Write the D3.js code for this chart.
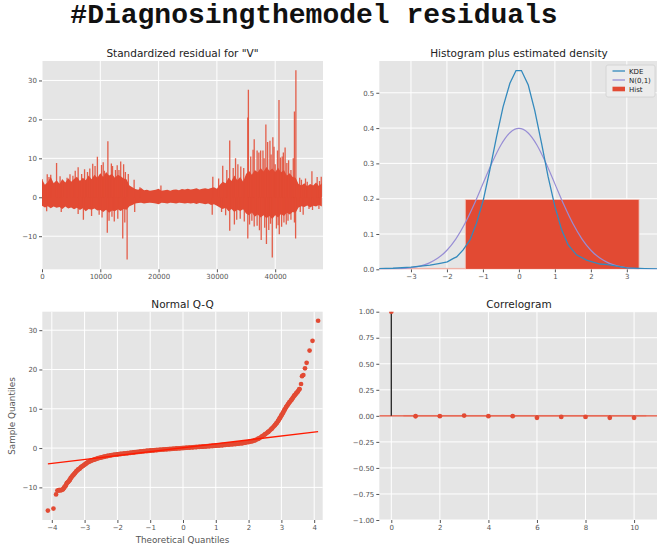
<!DOCTYPE html>
<html>
<head>
<meta charset="utf-8">
<script src="https://cdn.jsdelivr.net/npm/d3@7"></script>
<style>
body { margin: 0; background: #fff; }
text { font-family: "DejaVu Sans", sans-serif; }
</style>
</head>
<body>
<div id="chart"></div>
<script>
// standardized residual: envelope of the dense band (every 500 obs) + the spikes sticking out of it
var residX = d3.range(0, 48001, 500);
var residHigh = [4.6,3.2,3.9,5.2,3.6,4.4,3.5,4.6,3.8,4.9,
                 4.0,4.7,5.3,4.2,5.0,4.4,5.6,4.6,5.8,5.0,
                 6.2,5.2,6.5,5.6,6.0,5.0,5.8,5.4,4.8,4.6,
                 3.0,2.6,2.1,1.9,2.4,1.8,1.9,1.7,1.8,1.9,
                 2.2,1.7,1.8,1.9,1.7,1.9,2.0,1.8,2.1,2.0,
                 2.2,2.0,2.1,2.3,2.0,2.2,2.3,2.1,2.4,2.6,
                 2.2,3.2,4.0,3.6,5.0,4.2,5.6,4.4,5.2,4.0,
                 6.0,6.8,5.8,7.0,6.4,7.5,6.6,7.8,6.8,7.4,
                 6.5,7.6,6.4,7.0,5.6,6.2,5.2,5.0,3.4,3.0,
                 3.6,2.8,3.4,3.0,3.8,2.9,3.6];
var residLow = [-2.2,-2.6,-2.3,-2.8,-2.4,-2.7,-2.5,-3.0,-2.4,-2.9,
                -2.6,-3.1,-2.7,-3.3,-2.8,-3.6,-3.0,-3.2,-2.9,-3.4,
                -3.3,-3.8,-3.2,-4.0,-3.4,-3.6,-3.1,-3.5,-3.0,-3.2,
                -2.3,-2.0,-1.6,-1.5,-1.4,-1.6,-1.5,-1.4,-1.5,-1.6,
                -1.8,-1.4,-1.5,-1.6,-1.4,-1.5,-1.6,-1.4,-1.5,-1.6,
                -1.5,-1.6,-1.5,-1.7,-1.5,-1.6,-1.8,-1.6,-2.0,-1.8,
                -2.2,-2.6,-3.0,-2.7,-3.6,-3.0,-3.8,-3.2,-3.5,-3.1,
                -4.2,-4.6,-3.9,-5.0,-4.4,-5.2,-4.6,-5.4,-4.8,-5.6,
                -4.6,-5.2,-4.3,-4.8,-4.0,-4.4,-3.8,-4.0,-2.6,-2.3,
                -2.5,-2.1,-2.6,-2.2,-2.4,-2.0,-2.4];
var spikeX = [0,900,1200,1500,2500,3100,3500,4300,4800,5300,5700,6200,6800,7300,7800,8200,8700,9100,9500,10200,10500,10700,11300,11900,12100,12600,12900,13200,13500,14000,14300,14800,15800,16800,20400,
              29300,30300,31000,31700,32200,32800,33200,33600,34100,34600,35300,35400,35800,36200,36400,36900,37200,37500,37900,38100,38400,38700,39100,39300,39600,39800,40000,40400,40650,40900,41200,41400,41700,42000,42300,42700,43100,43300,43550,44200,44500,45200,45500,46300,47200,47600,47900,
              800,3300,6200,7100,8500,9800,10300,11200,11500,12000,12400,13000,13850,14200,14600,15900,
              29200,30800,31500,32200,33000,33400,34000,34700,35300,35600,36000,36400,36900,37300,37600,38200,38500,38900,39200,39500,40200,40500,40700,41100,41500,41900,42200,42700,43300,43500,44300,44800,45800,46400,47500];
var spikeY = [4.7,5.9,5.2,5.8,8.8,5.4,4.5,5.0,5.9,5.5,6.8,7.7,6.0,7.2,6.5,7.4,8.6,8.0,10.4,8.3,9.0,6.8,14.4,8.7,8.0,7.0,8.2,7.0,9.2,8.5,6.5,6.0,4.5,2.6,3.0,
              5.3,4.8,8.1,7.0,14.6,7.5,10.0,8.5,7.9,7.5,20.5,27.6,10.5,12.2,14.9,12.0,11.5,12.0,12.0,10.0,18.7,14.2,14.5,11.0,15.4,13.0,8.5,12.0,25.0,10.2,10.5,11.5,12.8,8.8,9.5,7.0,10.0,22.0,32.6,5.0,4.5,4.8,4.0,6.7,5.2,4.2,5.3,
              -3.6,-3.8,-4.3,-5.8,-4.8,-4.5,-5.2,-9.1,-6.0,-5.0,-6.2,-5.5,-10.6,-6.5,-16.0,-3.8,
              -4.5,-3.8,-4.6,-8.6,-7.0,-5.8,-5.5,-6.2,-10.6,-7.0,-6.0,-7.5,-7.3,-8.5,-11.0,-7.8,-12.0,-8.4,-6.8,-15.5,-8.0,-7.2,-9.5,-7.6,-6.5,-7.0,-6.0,-5.8,-6.5,-10.6,-3.8,-4.5,-3.0,-3.3,-3.0];

// histogram + densities
var histEdges = [-6.32, -1.49, 3.34];
var histHeights = [0.003, 0.198];
var kdeX = [-3.9,-3.5,-3.0,-2.47,-2.19,-1.99,-1.82,-1.73,-1.55,-1.36,-1.18,-0.99,-0.81,-0.62,-0.44,-0.25,-0.08,0.07,0.26,0.44,0.63,0.81,1.0,1.19,1.37,1.6,1.88,2.25,2.47,3.0,3.5,3.95];
var kdeY = [0.002,0.003,0.006,0.012,0.017,0.021,0.031,0.035,0.055,0.083,0.13,0.196,0.28,0.376,0.46,0.527,0.563,0.563,0.522,0.45,0.357,0.263,0.178,0.111,0.069,0.041,0.026,0.015,0.013,0.004,0.002,0.001];
var normX = [-4,-3.75,-3.5,-3.25,-3,-2.75,-2.5,-2.25,-2,-1.75,-1.5,-1.25,-1,-0.75,-0.5,-0.25,0,0.25,0.5,0.75,1,1.25,1.5,1.75,2,2.25,2.5,2.75,3,3.25,3.5,3.75,4];
var normY = [0.0001,0.0004,0.0009,0.002,0.0044,0.0091,0.0175,0.0317,0.054,0.0863,0.1295,0.1826,0.242,0.3011,0.3521,0.3867,0.3989,0.3867,0.3521,0.3011,0.242,0.1826,0.1295,0.0863,0.054,0.0317,0.0175,0.0091,0.0044,0.002,0.0009,0.0004,0.0001];

// normal Q-Q
var qqTheo = [-3.78,-3.72,-3.66,-3.62,-3.58,-3.54,-3.5,-3.46,-3.42,-3.38,-3.34,-3.3,-3.25,-3.2,-3.15,-3.1,-3.05,-3.0,-2.95,-2.9,-2.85,-2.8,-2.7,-2.6,-2.5,-2.4,-2.3,-2.2,-2.1,-2.0,-1.9,-1.8,-1.7,-1.6,-1.5,-1.4,-1.3,-1.2,-1.1,-1.0,-0.9,-0.8,-0.7,-0.6,-0.5,-0.4,-0.3,-0.2,-0.1,0,0.1,0.2,0.3,0.4,0.5,0.6,0.7,0.8,0.9,1.0,1.1,1.2,1.3,1.4,1.5,1.6,1.7,1.8,1.9,2.0,2.1,2.2,2.3,2.4,2.5,2.6,2.7,2.8,2.85,2.9,2.95,3.0,3.05,3.1,3.15,3.2,3.25,3.3,3.35,3.4,3.45,3.5,3.55];
var qqSample = [-10.7,-10.7,-10.5,-10.0,-9.6,-8.9,-8.6,-8.2,-7.6,-7.2,-6.8,-6.4,-5.9,-5.5,-5.2,-4.8,-4.5,-4.2,-3.9,-3.6,-3.4,-3.2,-2.9,-2.6,-2.4,-2.2,-2.0,-1.85,-1.7,-1.6,-1.5,-1.4,-1.3,-1.2,-1.1,-1.0,-0.9,-0.8,-0.72,-0.65,-0.58,-0.5,-0.43,-0.36,-0.3,-0.23,-0.17,-0.1,-0.04,0.02,0.08,0.14,0.2,0.26,0.32,0.38,0.44,0.5,0.56,0.62,0.69,0.76,0.83,0.9,0.98,1.06,1.15,1.26,1.4,1.55,1.75,2.0,2.4,2.9,3.5,4.1,4.9,5.8,6.3,6.9,7.6,8.3,9.0,9.8,10.5,11.1,11.7,12.2,12.8,13.4,13.9,14.4,15.0];
var qqOutTheo = [-4.12,-3.95,-3.87,-3.83,-3.8,3.6,3.63,3.67,3.72,3.77,3.86,3.95,4.12];
var qqOutSample = [-15.9,-15.4,-11.8,-10.8,-10.8,16.3,18.3,18.6,20.3,21.7,24.8,27.3,32.4];
var qqLineTheo = [-4.12, 4.12];
var qqLineSample = [-4.03, 4.18];

// correlogram
var acfLags = [0,1,2,3,4,5,6,7,8,9,10];
var acfValues = [1,-0.004,-0.003,0.003,-0.003,-0.003,-0.019,-0.01,-0.01,-0.019,-0.019];
var acfConf = 0.009;

var red = "#E24A33", blue = "#348ABD", purple = "#988ED5";
var W = 657, H = 546;

var svg = d3.select("#chart").append("svg")
    .attr("width", W).attr("height", H);

svg.append("text")
    .attr("x", 314).attr("y", 23)
    .attr("text-anchor", "middle")
    .style("font-family", "'Liberation Mono', 'DejaVu Sans Mono', monospace")
    .style("font-weight", "bold")
    .style("font-size", "28px")
    .attr("fill", "#111")
    .text("#Diagnosingthemodel residuals");

var clipId = 0;
function panel(left, top, w, h, xd, yd, xt, yt, xf, yf, title, titleX) {
    var x = d3.scaleLinear().domain(xd).range([left, left + w]);
    var y = d3.scaleLinear().domain(yd).range([top + h, top]);
    var g = svg.append("g");
    g.append("rect").attr("x", left).attr("y", top).attr("width", w).attr("height", h).attr("fill", "#E5E5E5");
    g.selectAll(".gx").data(xt).enter().append("line")
        .attr("x1", d => x(d)).attr("x2", d => x(d)).attr("y1", top).attr("y2", top + h)
        .attr("stroke", "#fff").attr("stroke-width", 1);
    g.selectAll(".gy").data(yt).enter().append("line")
        .attr("y1", d => y(d)).attr("y2", d => y(d)).attr("x1", left).attr("x2", left + w)
        .attr("stroke", "#fff").attr("stroke-width", 1);
    var ax = g.append("g").attr("transform", "translate(0," + (top + h) + ")")
        .call(d3.axisBottom(x).tickValues(xt).tickFormat(xf).tickSize(3).tickPadding(2));
    var ay = g.append("g").attr("transform", "translate(" + left + ",0)")
        .call(d3.axisLeft(y).tickValues(yt).tickFormat(yf).tickSize(3).tickPadding(2));
    [ax, ay].forEach(function (a) {
        a.select(".domain").remove();
        a.selectAll("line").attr("stroke", "#555");
        a.selectAll("text").attr("fill", "#555").style("font-size", "7px").style("font-family", "DejaVu Sans");
    });
    g.append("text").attr("x", titleX).attr("y", top - 4)
        .attr("text-anchor", "middle").attr("fill", "#222").style("font-size", "10.5px").text(title);
    var id = "clip" + (clipId++);
    svg.append("clipPath").attr("id", id).append("rect")
        .attr("x", left).attr("y", top).attr("width", w).attr("height", h);
    var plot = svg.append("g").attr("clip-path", "url(#" + id + ")");
    return { x: x, y: y, g: plot };
}

var f0 = d3.format("d");

// --- standardized residual
var p1 = panel(42, 61, 281, 208.3, [0, 48200], [-18.5, 35], [0, 10000, 20000, 30000, 40000], [-10, 0, 10, 20, 30], f0, f0, 'Standardized residual for "V"', 182.5);
p1.g.append("path")
    .datum(residX.map((d, i) => [d, residHigh[i], residLow[i]]))
    .attr("fill", red)
    .attr("d", d3.area().x(d => p1.x(d[0])).y0(d => p1.y(d[2])).y1(d => p1.y(d[1])));
p1.g.selectAll(".spike").data(spikeX.map((d, i) => [d, spikeY[i]])).enter().append("line")
    .attr("x1", d => p1.x(d[0])).attr("x2", d => p1.x(d[0]))
    .attr("y1", p1.y(0)).attr("y2", d => p1.y(d[1]))
    .attr("stroke", red).attr("stroke-width", 1.3).attr("stroke-opacity", 0.88);

// --- histogram plus estimated density
var p2 = panel(379.3, 61, 281, 208.3, [-3.88, 3.93], [0, 0.59], [-3, -2, -1, 0, 1, 2, 3], [0, 0.1, 0.2, 0.3, 0.4, 0.5], d3.format("d"), d3.format(".1f"), "Histogram plus estimated density", 519);
p2.g.selectAll(".bar").data(histHeights).enter().append("rect")
    .attr("x", (d, i) => p2.x(histEdges[i]))
    .attr("width", (d, i) => p2.x(histEdges[i + 1]) - p2.x(histEdges[i]))
    .attr("y", d => p2.y(d))
    .attr("height", d => p2.y(0) - p2.y(d))
    .attr("fill", red).attr("stroke", "#f3c8bf").attr("stroke-width", 0.8);
p2.g.append("path").datum(normX.map((d, i) => [d, normY[i]]))
    .attr("fill", "none").attr("stroke", purple).attr("stroke-width", 1.2)
    .attr("d", d3.line().curve(d3.curveMonotoneX).x(d => p2.x(d[0])).y(d => p2.y(d[1])));
p2.g.append("path").datum(kdeX.map((d, i) => [d, kdeY[i]]))
    .attr("fill", "none").attr("stroke", blue).attr("stroke-width", 1.3)
    .attr("d", d3.line().x(d => p2.x(d[0])).y(d => p2.y(d[1])));

var lg = svg.append("g");
lg.append("rect").attr("x", 606).attr("y", 65).attr("width", 49).attr("height", 32).attr("rx", 2)
    .attr("fill", "#ececec").attr("stroke", "#d0d0d0").attr("stroke-width", 0.8);
var legendItems = [["KDE", blue], ["N(0,1)", purple], ["Hist", red]];
legendItems.forEach(function (d, i) {
    var yy = 71 + i * 9;
    if (i < 2) {
        lg.append("line").attr("x1", 612.5).attr("x2", 625).attr("y1", yy).attr("y2", yy)
            .attr("stroke", d[1]).attr("stroke-width", 1.3);
    } else {
        lg.append("rect").attr("x", 612.5).attr("y", yy - 2.3).attr("width", 12.5).attr("height", 4.6).attr("fill", d[1]);
    }
    lg.append("text").attr("x", 629).attr("y", yy + 2.5).attr("fill", "#222").style("font-size", "7px").text(d[0]);
});

// --- normal Q-Q
var p3 = panel(42.3, 311.7, 280.4, 208.3, [-4.29, 4.26], [-18.3, 34.7], [-4, -3, -2, -1, 0, 1, 2, 3, 4], [-10, 0, 10, 20, 30], f0, f0, "Normal Q-Q", 182.5);
var qqPts = qqTheo.map((d, i) => [d, qqSample[i]]);
p3.g.append("path").datum(qqPts)
    .attr("fill", "none").attr("stroke", red).attr("stroke-width", 4.6)
    .attr("stroke-linecap", "round").attr("stroke-linejoin", "round")
    .attr("d", d3.line().x(d => p3.x(d[0])).y(d => p3.y(d[1])));
p3.g.selectAll(".qq").data(qqPts.concat(qqOutTheo.map((d, i) => [d, qqOutSample[i]]))).enter().append("circle")
    .attr("cx", d => p3.x(d[0])).attr("cy", d => p3.y(d[1])).attr("r", 2.35).attr("fill", red);
p3.g.append("path").datum(qqLineTheo.map((d, i) => [d, qqLineSample[i]]))
    .attr("fill", "none").attr("stroke", "#ff1a00").attr("stroke-width", 1.4)
    .attr("d", d3.line().x(d => p3.x(d[0])).y(d => p3.y(d[1])));
svg.append("text").attr("transform", "translate(15,416) rotate(-90)").attr("text-anchor", "middle")
    .attr("fill", "#555").style("font-size", "8.8px").text("Sample Quantiles");
svg.append("text").attr("x", 182.5).attr("y", 542.5).attr("text-anchor", "middle")
    .attr("fill", "#555").style("font-size", "8.8px").text("Theoretical Quantiles");

// --- correlogram
var p4 = panel(379.3, 311.7, 281, 208.3, [-0.494, 11.08], [-1, 1], [0, 2, 4, 6, 8, 10], [-1, -0.75, -0.5, -0.25, 0, 0.25, 0.5, 0.75, 1], f0, d3.format(".2f"), "Correlogram", 519);
p4.g.append("rect").attr("x", p4.x(0.5)).attr("width", p4.x(10.5) - p4.x(0.5))
    .attr("y", p4.y(acfConf)).attr("height", p4.y(-acfConf) - p4.y(acfConf))
    .attr("fill", red).attr("fill-opacity", 0.25);
p4.g.append("line").attr("x1", p4.x(-0.494)).attr("x2", p4.x(11.08)).attr("y1", p4.y(0)).attr("y2", p4.y(0))
    .attr("stroke", red).attr("stroke-width", 1.2);
p4.g.selectAll(".stem").data(acfLags).enter().append("line")
    .attr("x1", d => p4.x(d)).attr("x2", d => p4.x(d))
    .attr("y1", p4.y(0)).attr("y2", (d, i) => p4.y(acfValues[i]))
    .attr("stroke", "#222").attr("stroke-width", 1.3);
p4.g.selectAll(".acf").data(acfLags).enter().append("circle")
    .attr("cx", d => p4.x(d)).attr("cy", (d, i) => p4.y(acfValues[i])).attr("r", 2.4).attr("fill", red);
</script>
</body>
</html>
